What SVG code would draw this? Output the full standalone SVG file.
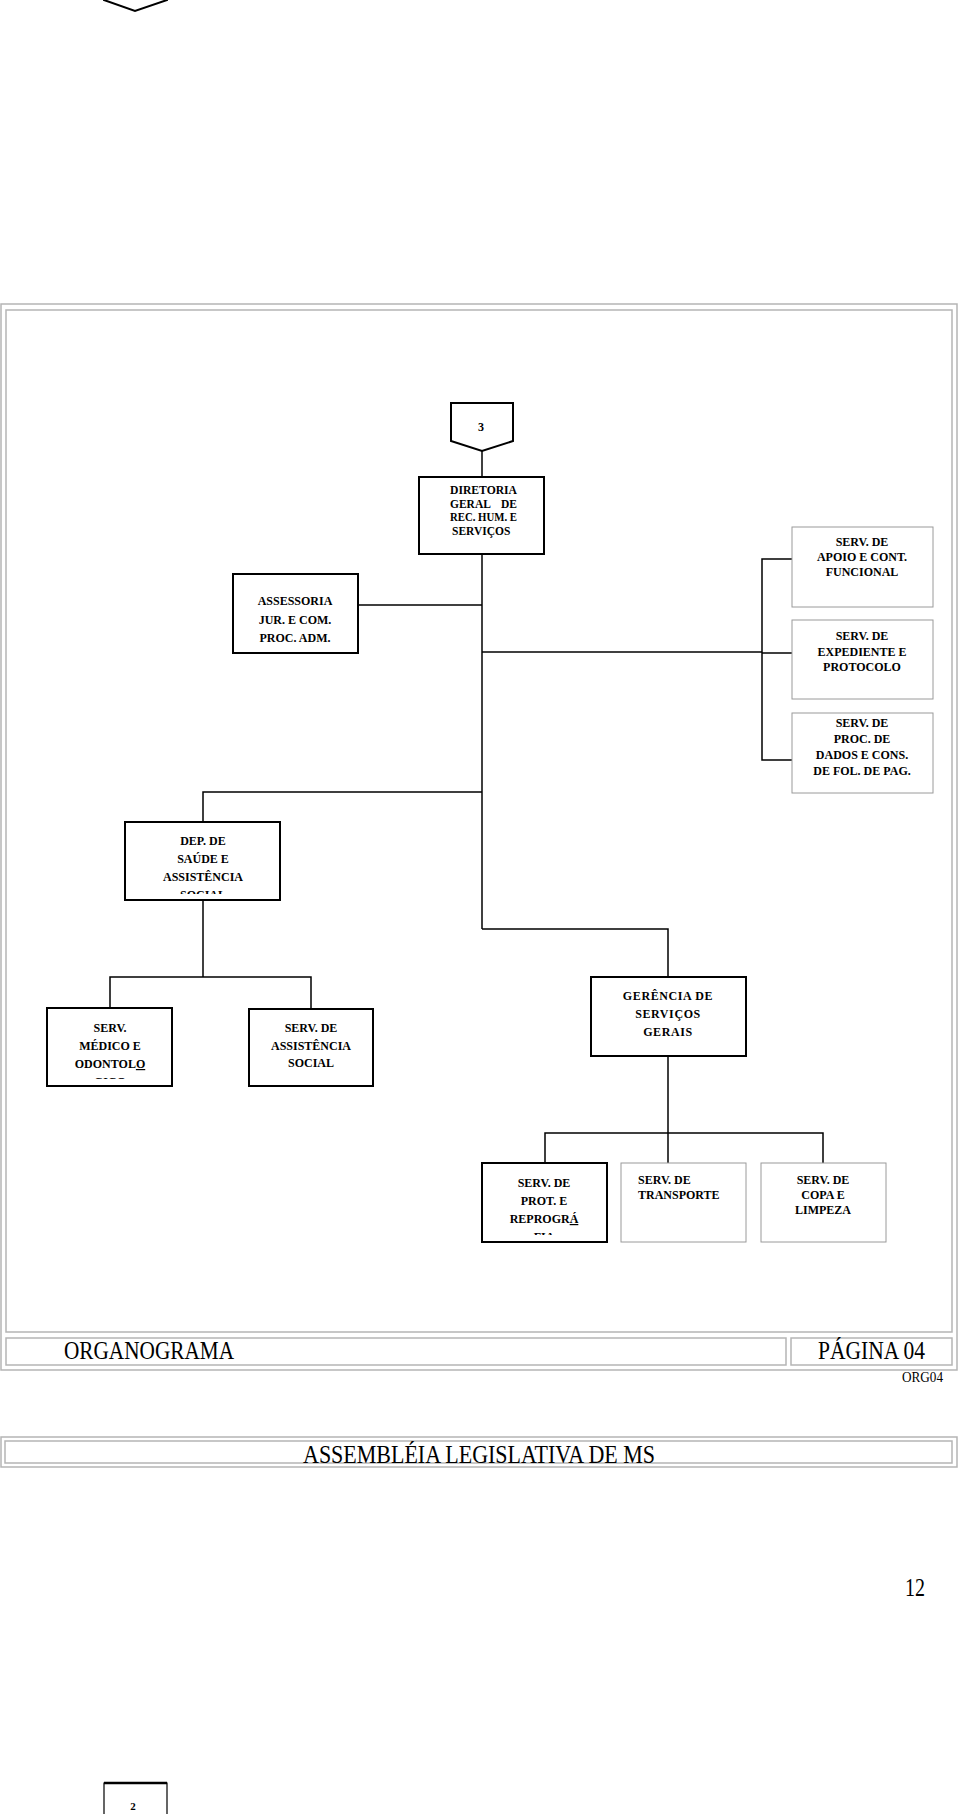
<svg xmlns="http://www.w3.org/2000/svg" width="960" height="1814" viewBox="0 0 960 1814">
<style>
.bx{fill:#fff;stroke:#000;stroke-width:2}
.gb{fill:#fff;stroke:#9a9a9a;stroke-width:1}
.cn{fill:none;stroke:#000;stroke-width:1.5}
.fr{fill:none;stroke:#b5b5b5;stroke-width:1.5}
.t{font-family:"Liberation Serif","Times New Roman",serif;font-weight:bold;font-size:12px;text-anchor:middle;fill:#000}
.tl{font-family:"Liberation Serif","Times New Roman",serif;font-weight:bold;font-size:12px;fill:#000}
.big{font-family:"Liberation Serif","Times New Roman",serif;font-size:26px;fill:#000}
</style>
<defs>
<clipPath id="cDep"><rect x="125" y="822" width="155" height="72"/></clipPath>
<clipPath id="cMed"><rect x="47" y="1008" width="125" height="71"/></clipPath>
<clipPath id="cProt"><rect x="482" y="1163" width="125" height="72"/></clipPath>
</defs>
<rect width="960" height="1814" fill="#fff"/>

<g id="top-connector">
<path d="M104,-20 V0 L135,11 L167,0 V-20" fill="#fff" stroke="#000" stroke-width="2"/>
</g>

<g id="frame">
<rect class="fr" x="1" y="304" width="956" height="1066"/>
<rect class="fr" x="6" y="310" width="946" height="1022"/>
<rect class="fr" x="6" y="1338" width="780" height="27"/>
<rect class="fr" x="791" y="1338" width="161" height="27"/>
<text class="big" x="64" y="1359" textLength="170" lengthAdjust="spacingAndGlyphs">ORGANOGRAMA</text>
<text class="big" x="818" y="1359" textLength="107" lengthAdjust="spacingAndGlyphs">PÁGINA 04</text>
<text class="big" x="902" y="1382" style="font-size:15px" textLength="41" lengthAdjust="spacingAndGlyphs">ORG04</text>
</g>

<g id="connectors">
<line class="cn" x1="482" y1="451" x2="482" y2="477"/>
<line class="cn" x1="482" y1="554" x2="482" y2="929"/>
<line class="cn" x1="358" y1="605" x2="482" y2="605"/>
<line class="cn" x1="482" y1="652" x2="762" y2="652"/>
<polyline class="cn" points="792,559 762,559 762,760 792,760"/>
<line class="cn" x1="762" y1="653" x2="792" y2="653"/>
<polyline class="cn" points="482,792 203,792 203,822"/>
<polyline class="cn" points="482,929 668,929 668,977"/>
<line class="cn" x1="203" y1="900" x2="203" y2="977"/>
<polyline class="cn" points="110,1008 110,977 311,977 311,1009"/>
<line class="cn" x1="668" y1="1056" x2="668" y2="1163"/>
<polyline class="cn" points="545,1163 545,1133 823,1133 823,1163"/>
</g>

<g id="n3">
<path d="M451,403 H513 V441 L482,451 L451,441 Z" fill="#fff" stroke="#000" stroke-width="2"/>
<text class="t" x="481" y="431">3</text>
</g>

<g id="diretoria">
<rect class="bx" x="419" y="477" width="125" height="77"/>
<text class="tl" style="font-size:11.5px"><tspan x="450" y="494" textLength="67" lengthAdjust="spacingAndGlyphs">DIRETORIA</tspan><tspan x="450" y="507.5">GERAL</tspan><tspan x="501" y="507.5">DE</tspan><tspan x="450" y="521" textLength="67" lengthAdjust="spacingAndGlyphs">REC. HUM. E</tspan><tspan x="452" y="534.5">SERVIÇOS</tspan></text>
</g>

<g id="assessoria">
<rect class="bx" x="233" y="574" width="125" height="79"/>
<text class="t"><tspan x="295" y="605">ASSESSORIA</tspan><tspan x="295" y="623.5">JUR. E COM.</tspan><tspan x="295" y="642">PROC. ADM.</tspan></text>
</g>

<g id="apoio">
<rect class="gb" x="792" y="527" width="141" height="80"/>
<text class="t"><tspan x="862" y="546">SERV. DE</tspan><tspan x="862" y="561">APOIO E CONT.</tspan><tspan x="862" y="576">FUNCIONAL</tspan></text>
</g>

<g id="expediente">
<rect class="gb" x="792" y="620" width="141" height="79"/>
<text class="t"><tspan x="862" y="640">SERV. DE</tspan><tspan x="862" y="655.5">EXPEDIENTE E</tspan><tspan x="862" y="671">PROTOCOLO</tspan></text>
</g>

<g id="dados">
<rect class="gb" x="792" y="713" width="141" height="80"/>
<text class="t"><tspan x="862" y="727">SERV. DE</tspan><tspan x="862" y="743">PROC. DE</tspan><tspan x="862" y="759">DADOS E CONS.</tspan><tspan x="862" y="775">DE FOL. DE PAG.</tspan></text>
</g>

<g id="dep-saude">
<rect class="bx" x="125" y="822" width="155" height="78"/>
<text class="t" clip-path="url(#cDep)"><tspan x="203" y="845">DEP. DE</tspan><tspan x="203" y="863">SAÚDE E</tspan><tspan x="203" y="881">ASSISTÊNCIA</tspan><tspan x="203" y="899">SOCIAL</tspan></text>
</g>

<g id="medico">
<rect class="bx" x="47" y="1008" width="125" height="78"/>
<text class="t" clip-path="url(#cMed)"><tspan x="110" y="1032">SERV.</tspan><tspan x="110" y="1050">MÉDICO E</tspan><tspan x="110" y="1068">ODONTOL<tspan text-decoration="underline">O</tspan></tspan><tspan x="110" y="1086">GICO</tspan></text>
</g>

<g id="assistencia">
<rect class="bx" x="249" y="1009" width="124" height="77"/>
<text class="t"><tspan x="311" y="1032">SERV. DE</tspan><tspan x="311" y="1050">ASSISTÊNCIA</tspan><tspan x="311" y="1067">SOCIAL</tspan></text>
</g>

<g id="gerencia">
<rect class="bx" x="591" y="977" width="155" height="79"/>
<text class="t" style="letter-spacing:0.6px"><tspan x="668" y="1000">GERÊNCIA DE</tspan><tspan x="668" y="1018">SERVIÇOS</tspan><tspan x="668" y="1036">GERAIS</tspan></text>
</g>

<g id="prot">
<rect class="bx" x="482" y="1163" width="125" height="79"/>
<text class="t" clip-path="url(#cProt)"><tspan x="544" y="1187">SERV. DE</tspan><tspan x="544" y="1205">PROT. E</tspan><tspan x="544" y="1223">REPROGR<tspan text-decoration="underline">Á</tspan></tspan><tspan x="544" y="1241">FIA</tspan></text>
</g>

<g id="transporte">
<rect class="gb" x="621" y="1163" width="125" height="79"/>
<text class="tl"><tspan x="638" y="1184">SERV. DE</tspan><tspan x="638" y="1199">TRANSPORTE</tspan></text>
</g>

<g id="copa">
<rect class="gb" x="761" y="1163" width="125" height="79"/>
<text class="t"><tspan x="823" y="1184">SERV. DE</tspan><tspan x="823" y="1199">COPA E</tspan><tspan x="823" y="1214">LIMPEZA</tspan></text>
</g>

<g id="assembleia">
<rect class="fr" x="1" y="1437" width="956" height="30"/>
<rect class="fr" x="5" y="1441" width="947" height="22"/>
<text class="big" x="303" y="1463" textLength="352" lengthAdjust="spacingAndGlyphs">ASSEMBLÉIA LEGISLATIVA DE MS</text>
</g>

<g id="page-number">
<text class="big" x="905" y="1596" textLength="20" lengthAdjust="spacingAndGlyphs">12</text>
</g>

<g id="n2">
<path d="M104,1830 V1783 H167 V1830" fill="#fff" stroke="#000" stroke-width="1.2"/>
<line x1="104" y1="1783" x2="167" y2="1783" stroke="#000" stroke-width="2.5"/>
<text class="t" style="font-size:11px" x="133" y="1810">2</text>
</g>
</svg>
